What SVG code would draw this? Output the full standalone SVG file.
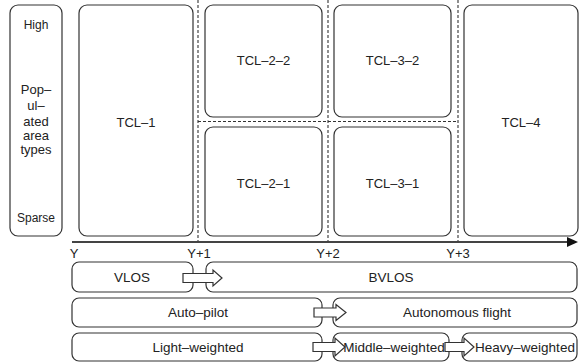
<svg xmlns="http://www.w3.org/2000/svg" width="582" height="363" viewBox="0 0 582 363">
<style>
.box{fill:#fff;stroke:#333;stroke-width:1.2}
.dash{stroke:#333;stroke-width:1.1;stroke-dasharray:3,2;fill:none}
.t{font-family:"Liberation Sans",Arial,sans-serif;fill:#222;text-anchor:middle}
.s12{font-size:12px}
.s13{font-size:13px}
.s14{font-size:13.5px}
.blk{fill:#fff;stroke:#333;stroke-width:1.2;stroke-linejoin:miter}
</style>
<rect width="582" height="363" fill="#fff"/>
<g id="guides">
<line class="dash" x1="198" y1="0" x2="198" y2="242"/>
<line class="dash" x1="328" y1="0" x2="328" y2="242"/>
<line class="dash" x1="458" y1="0" x2="458" y2="242"/>
<line class="dash" x1="198" y1="121.5" x2="458" y2="121.5"/>
</g>
<g id="area-types">
<rect class="box" x="10" y="5" width="52" height="231" rx="8"/>
<text class="t s12" x="36" y="29">High</text>
<text class="t s13" x="36" y="94">Pop–</text>
<text class="t s13" x="36" y="110">ul–</text>
<text class="t s13" x="36" y="126">ated</text>
<text class="t s13" x="36" y="140">area</text>
<text class="t s13" x="36" y="154">types</text>
<text class="t s12" x="36" y="222">Sparse</text>
</g>
<g id="tcl-1">
<rect class="box" x="79" y="5" width="114" height="231" rx="8"/>
<text class="t s13" x="136" y="127">TCL–1</text>
</g>
<g id="tcl-2-2">
<rect class="box" x="205" y="5" width="117" height="112" rx="8"/>
<text class="t s13" x="263.5" y="65">TCL–2–2</text>
</g>
<g id="tcl-2-1">
<rect class="box" x="205" y="127" width="117" height="109" rx="8"/>
<text class="t s13" x="263.5" y="188">TCL–2–1</text>
</g>
<g id="tcl-3-2">
<rect class="box" x="334" y="5" width="117" height="112" rx="8"/>
<text class="t s13" x="392.5" y="65">TCL–3–2</text>
</g>
<g id="tcl-3-1">
<rect class="box" x="334" y="127" width="117" height="109" rx="8"/>
<text class="t s13" x="392.5" y="188">TCL–3–1</text>
</g>
<g id="tcl-4">
<rect class="box" x="464" y="5" width="114" height="231" rx="8"/>
<text class="t s13" x="521" y="127">TCL–4</text>
</g>
<g id="axis">
<line x1="72" y1="242" x2="569" y2="242" stroke="#444" stroke-width="2"/>
<polygon points="567,237 578,242 567,247" fill="#111"/>
<text class="t s13" x="74" y="258">Y</text>
<text class="t s13" x="199" y="258">Y+1</text>
<text class="t s13" x="328" y="258">Y+2</text>
<text class="t s13" x="458" y="258">Y+3</text>
</g>
<g id="vlos">
<rect class="box" x="72" y="262" width="121" height="30" rx="7"/>
<text class="t s14" x="132" y="282">VLOS</text>
</g>
<g id="bvlos">
<rect class="box" x="206" y="262" width="371" height="30" rx="7"/>
<text class="t s14" x="391" y="282">BVLOS</text>
</g>
<g id="auto-pilot">
<rect class="box" x="72" y="298" width="250" height="29" rx="7"/>
<text class="t s14" x="198" y="317">Auto–pilot</text>
</g>
<g id="autonomous">
<rect class="box" x="333" y="298" width="244" height="29" rx="7"/>
<text class="t s14" x="457" y="317">Autonomous flight</text>
</g>
<g id="light">
<rect class="box" x="72" y="333" width="250" height="28" rx="7"/>
<text class="t s14" x="198" y="352">Light–weighted</text>
</g>
<g id="middle">
<rect class="box" x="333" y="333" width="116" height="28" rx="7"/>
<text class="t s14" x="394" y="352">Middle–weighted</text>
</g>
<g id="heavy">
<rect class="box" x="462" y="333" width="115" height="28" rx="7"/>
<text class="t s14" x="525" y="352">Heavy–weighted</text>
</g>
<g id="connectors">
<polygon class="blk" points="183,273.5 213,273.5 213,270 222,278 213,286 213,282.5 183,282.5"/>
<polygon class="blk" points="314,308 336,308 336,304.5 346,312.5 336,320.5 336,317 314,317"/>
<polygon class="blk" points="313,342.5 335,342.5 335,338 345,347 335,356 335,351.5 313,351.5"/>
<polygon class="blk" points="445,342.5 464,342.5 464,338 474,347 464,356 464,351.5 445,351.5"/>
</g>
</svg>
